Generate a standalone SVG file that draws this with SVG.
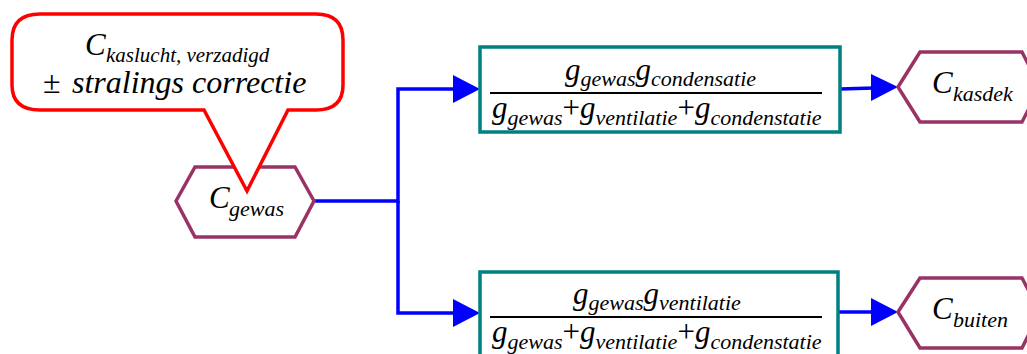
<svg xmlns="http://www.w3.org/2000/svg" width="1027" height="354" viewBox="0 0 1027 354">
<rect width="1027" height="354" fill="#fff"/>
<g id="connectors" fill="none" stroke="#0000FF" stroke-width="3.5">
<polyline points="314,201 398,201 398,89 456,89"/>
<polyline points="398,201 398,313 456,313"/>
<line x1="840" y1="89" x2="874" y2="88"/>
<line x1="838" y1="312" x2="874" y2="312"/>
<g fill="#0000FF" stroke="none">
<polygon points="453,75 480,89 453,103"/>
<polygon points="453,299 480,313 453,327"/>
<polygon points="871,74 898,87 871,101"/>
<polygon points="871,298 898,312 871,326"/>
</g>
</g>
<g id="gewas">
<polygon fill="#fff" stroke="#993366" stroke-width="3.5" points="176,201 195,167 295,167 314,201 295,237 195,237"/>
<text x="209" y="208" font-size="31" font-family="Liberation Serif" font-style="italic">C</text>
<text x="229" y="216" font-size="22" font-family="Liberation Serif" font-style="italic">gewas</text>
</g>
<g id="callout">
<path d="M40,14 H316 Q343,14 343,40 V85 Q343,110 316,110 H288 L247,191 L204,110 H40 Q12,110 12,85 V40 Q12,14 40,14 Z" fill="#fff" stroke="#FF0000" stroke-width="3.5"/>
<text x="85" y="55" font-size="31" font-family="Liberation Serif" font-style="italic">C</text>
<text x="106" y="62" font-size="21" font-family="Liberation Serif" font-style="italic">kaslucht, verzadigd</text>
<text x="43" y="93" font-size="32" font-family="Liberation Serif">±</text>
<text x="72" y="93" font-size="32" font-family="Liberation Serif" font-style="italic">stralings correctie</text>
</g>
<g id="box1">
<rect fill="#fff" stroke="#008080" stroke-width="3.5" x="480" y="47" width="360" height="85"/>
<line x1="490" y1="93" x2="822" y2="93" stroke="#000" stroke-width="2"/>
<g font-family="Liberation Serif" font-style="italic">
<text x="565" y="80" font-size="31">g</text>
<text x="580.5" y="86" font-size="22">gewas</text>
<text x="635.5" y="80" font-size="31">g</text>
<text x="651" y="86" font-size="22">condensatie</text>
<text x="492" y="118" font-size="31">g</text>
<text x="507.5" y="125" font-size="22">gewas</text>
<text x="562.5" y="118" font-size="31" font-style="normal">+</text>
<text x="580" y="118" font-size="31">g</text>
<text x="595.5" y="125" font-size="22">ventilatie</text>
<text x="677.4" y="118" font-size="31" font-style="normal">+</text>
<text x="694.9" y="118" font-size="31">g</text>
<text x="710.4" y="125" font-size="22">condenstatie</text>
</g>
</g>
<g id="box2">
<rect fill="#fff" stroke="#008080" stroke-width="3.5" x="480" y="272" width="358" height="90"/>
<line x1="490" y1="317" x2="822" y2="317" stroke="#000" stroke-width="2"/>
<g font-family="Liberation Serif" font-style="italic">
<text x="573" y="304" font-size="31">g</text>
<text x="588.5" y="310" font-size="22">gewas</text>
<text x="643.5" y="304" font-size="31">g</text>
<text x="659" y="310" font-size="22">ventilatie</text>
<text x="492" y="342" font-size="31">g</text>
<text x="507.5" y="349" font-size="22">gewas</text>
<text x="562.5" y="342" font-size="31" font-style="normal">+</text>
<text x="580" y="342" font-size="31">g</text>
<text x="595.5" y="349" font-size="22">ventilatie</text>
<text x="677.4" y="342" font-size="31" font-style="normal">+</text>
<text x="694.9" y="342" font-size="31">g</text>
<text x="710.4" y="349" font-size="22">condenstatie</text>
</g>
</g>
<g id="kasdek">
<polygon fill="#fff" stroke="#993366" stroke-width="3.5" points="898,87 920,52 1022,52 1040,87 1022,122 920,122"/>
<text x="932" y="93" font-size="31" font-family="Liberation Serif" font-style="italic">C</text>
<text x="953" y="101" font-size="22" font-family="Liberation Serif" font-style="italic">kasdek</text>
</g>
<g id="buiten">
<polygon fill="#fff" stroke="#993366" stroke-width="3.5" points="898,312 920,278 1022,278 1040,312 1022,348 920,348"/>
<text x="932" y="319" font-size="31" font-family="Liberation Serif" font-style="italic">C</text>
<text x="953" y="327" font-size="22" font-family="Liberation Serif" font-style="italic">buiten</text>
</g>
</svg>
